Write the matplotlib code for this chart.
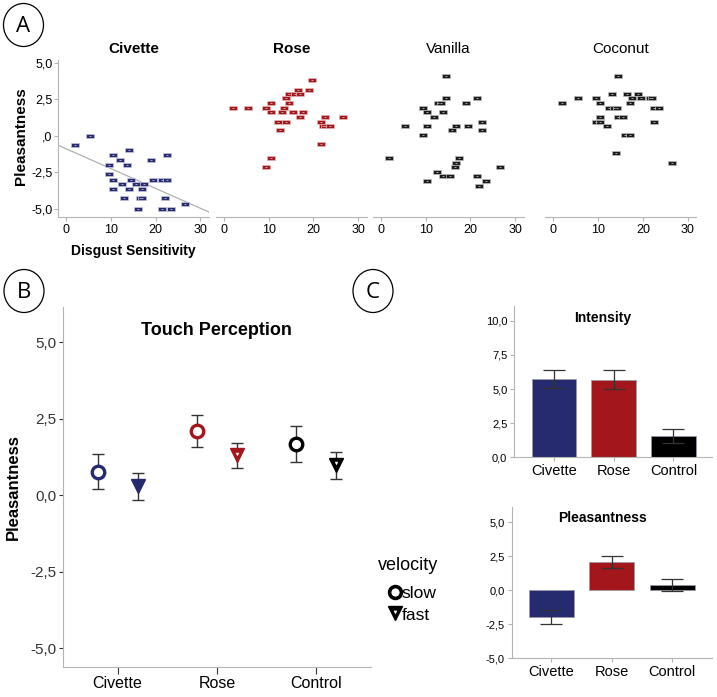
import numpy as np
import matplotlib
matplotlib.use('Agg')
import matplotlib.pyplot as plt
from matplotlib.patches import Ellipse
from matplotlib.path import Path

plt.rcParams['font.family'] = ['Liberation Sans', 'DejaVu Sans']

# ---------------- data ----------------
# panel A: disgust sensitivity vs pleasantness
civ_x = [2.0, 5.4, 10.5, 12.0, 14.0, 9.5, 13.5, 19.0, 22.6, 9.5, 10.5, 12.5, 14.5, 15.5, 17.5,
         19.5, 21.5, 22.6, 10.5, 14.0, 17.0, 13.0, 16.5, 17.0, 22.0, 16.0, 21.5, 23.5, 26.6]
civ_y = [-0.66, 0.0, -1.32, -1.67, -1.0, -2.0, -2.0, -1.67, -1.32, -2.65, -3.0, -3.3, -3.0, -3.3, -3.3,
         -3.0, -3.0, -3.0, -3.65, -3.65, -3.65, -4.3, -4.3, -4.3, -4.3, -5.0, -5.0, -5.0, -4.65]
rose_x = [2.0, 5.5, 9.5, 10.5, 10.5, 12.0, 12.5, 13.0, 13.5, 14.0, 14.5, 14.5, 14.0, 15.5, 16.0,
          16.6, 17.1, 17.1, 17.6, 19.1, 19.6, 21.6, 22.6, 22.1, 22.6, 23.6, 21.6, 26.6, 10.5, 9.5]
rose_y = [1.94, 1.94, 1.94, 2.26, 1.62, 0.98, 0.37, 1.62, 1.94, 2.56, 2.88, 2.26, 0.98, 1.62, 2.88,
          3.17, 2.88, 1.30, 1.62, 3.17, 3.81, 0.98, 1.30, 0.66, 0.66, 0.66, -0.57, 1.30, -1.53, -2.15]
van_x = [14.5, 14.5, 21.5, 12.8, 13.4, 19.0, 9.4, 10.4, 14.0, 11.9, 22.5, 5.4, 10.4, 16.9, 19.5,
         16.0, 22.5, 9.4, 1.9, 17.5, 16.9, 16.5, 26.5, 12.5, 14.0, 15.4, 21.5, 10.4, 23.5, 22.0]
van_y = [4.13, 2.56, 2.56, 2.26, 2.26, 2.26, 1.94, 1.62, 1.62, 1.30, 0.98, 0.66, 0.66, 0.66, 0.66,
         0.37, 0.37, 0.05, -1.53, -1.53, -1.85, -2.15, -2.15, -2.47, -2.79, -2.79, -2.79, -3.11, -3.11, -3.42]
coc_x = [14.5, 13.0, 16.5, 19.0, 5.5, 9.6, 17.6, 19.6, 21.6, 22.1, 2.0, 10.5, 17.0, 12.5, 13.6,
         14.1, 22.5, 23.6, 10.5, 14.5, 15.6, 9.6, 10.5, 22.5, 12.0, 16.0, 17.0, 14.0, 26.5]
coc_y = [4.13, 2.88, 2.88, 2.88, 2.56, 2.56, 2.56, 2.56, 2.56, 2.56, 2.26, 2.26, 2.26, 1.94, 1.94,
         1.94, 1.94, 1.94, 1.30, 1.30, 1.30, 0.98, 0.98, 0.98, 0.66, 0.05, 0.05, -1.21, -1.85]

# panel B: touch perception by odour and velocity
odours = ['Civette', 'Rose', 'Control']
slow_mean = [0.77, 2.09, 1.68]
slow_err = [0.58, 0.52, 0.58]
fast_mean = [0.30, 1.30, 0.98]
fast_err = [0.44, 0.42, 0.44]

# panel C: odour ratings
intensity_mean = [5.74, 5.67, 1.55]
intensity_err = [0.67, 0.70, 0.52]
pleas_mean = [-1.96, 2.08, 0.39]
pleas_err = [0.53, 0.41, 0.42]

NAVY = '#262a6e'
RED = '#a3171c'
BLACK = '#000000'
cols = [NAVY, RED, BLACK]
SPINE = '#b4b4b4'
ERR = '#333333'

W, H = 717, 697
fig = plt.figure(figsize=(W / 100, H / 100), dpi=100)


def box(left, top, right, bottom):
    # pixel box -> figure fraction rect
    return [left / W, 1 - bottom / H, (right - left) / W, (bottom - top) / H]


def style_axes(ax, show_y=True, tick_size=8.5):
    for s in ['top', 'right']:
        ax.spines[s].set_visible(False)
    ax.spines['bottom'].set_color(SPINE)
    ax.spines['left'].set_color(SPINE)
    if not show_y:
        ax.spines['left'].set_visible(False)
        ax.set_yticks([])
    ax.tick_params(axis='both', colors=SPINE, labelcolor='black', labelsize=tick_size,
                   length=3, width=0.8, pad=2)


rect_marker = Path([(-1, -0.55), (1, -0.55), (1, 0.55), (-1, 0.55), (-1, -0.55)])

# ---------------- panel A ----------------
scatter_sets = [('Civette', civ_x, civ_y, NAVY, 'bold', '#c6c6e0'),
                ('Rose', rose_x, rose_y, RED, 'bold', '#e8b8b8'),
                ('Vanilla', van_x, van_y, '#1a1a1a', 'normal', '#bdbdbd'),
                ('Coconut', coc_x, coc_y, '#1a1a1a', 'normal', '#bdbdbd')]
zero_px = [66, 223.7, 380.7, 553.3]
for i, (name, xs, ys, c, wt, ec) in enumerate(scatter_sets):
    left = zero_px[i] - 8
    ax = fig.add_axes(box(left, 60, left + 151, 216.7))
    ax.scatter(xs, ys, marker=rect_marker, s=26, facecolor=c, edgecolor=ec,
               linewidths=0.5, zorder=3)
    ax.scatter(xs, ys, marker='_', s=3, color='#e0e0e0', linewidths=0.5, zorder=4)
    ax.set_xlim(-1.8, 31.9)
    ax.set_ylim(-5.55, 5.2)
    ax.set_xticks([0, 10, 20, 30])
    style_axes(ax, show_y=(i == 0), tick_size=9)
    ax.tick_params(axis='y', pad=1)
    ax.set_title(name, fontsize=11, fontweight=wt, pad=5)
    if i == 0:
        ax.set_yticks([5, 2.5, 0, -2.5, -5])
        ax.set_yticklabels(['5,0', '2,5', ',0', '-2,5', '-5,0'])
        k, b = np.polyfit(civ_x, civ_y, 1)
        xl = np.array([-1.8, 31.9])
        ax.plot(xl, k * xl + b, color='#b0b0b0', lw=0.9, zorder=2)

fig.text(21 / W, 1 - 136 / H, 'Pleasantness', rotation=90, ha='center', va='center',
         fontsize=11, fontweight='bold')
fig.text(133 / W, 1 - 251 / H, 'Disgust Sensitivity', ha='center', va='center',
         fontsize=10, fontweight='bold')

# ---------------- panel B ----------------
axb = fig.add_axes(box(63, 306.7, 371, 666.7))
xpos = np.arange(len(odours))
for i in range(len(odours)):
    axb.errorbar(xpos[i] - 0.2, slow_mean[i], yerr=slow_err[i], fmt='none', ecolor=ERR,
                 elinewidth=1, capsize=4, capthick=1, zorder=2)
    axb.errorbar(xpos[i] + 0.2, fast_mean[i], yerr=fast_err[i], fmt='none', ecolor=ERR,
                 elinewidth=1, capsize=4, capthick=1, zorder=2)
    axb.plot(xpos[i] - 0.2, slow_mean[i], 'o', ms=9, mfc='white', mec=cols[i], mew=2.4, zorder=3)
    axb.plot(xpos[i] + 0.2, fast_mean[i], 'v', ms=10.5, mfc=cols[i], mec=cols[i], mew=1, zorder=3)
    if i > 0:
        axb.plot(xpos[i] + 0.2, fast_mean[i] + 0.06, 'v', ms=2.2, mfc='white', mec='white',
                 mew=0.2, zorder=4)
axb.set_xlim(-0.55, 2.55)
axb.set_ylim(-5.6, 6.16)
axb.set_xticks(xpos)
axb.set_xticklabels(odours)
axb.set_yticks([5, 2.5, 0, -2.5, -5])
axb.set_yticklabels(['5,0', '2,5', '0,0', '-2,5', '-5,0'])
style_axes(axb, tick_size=11)
axb.tick_params(axis='x', length=5, colors='#333333', labelcolor='black', labelsize=11.5)
axb.tick_params(axis='y', length=3, colors='#333333')
axb.text(0.497, 1 - (331 - 306.7) / 360, 'Touch Perception', transform=axb.transAxes,
         ha='center', va='center', fontsize=13, fontweight='bold')
fig.text(13 / W, 1 - 487 / H, 'Pleasantness', rotation=90, ha='center', va='center',
         fontsize=12, fontweight='bold')

# legend for velocity, drawn in pixel space
ov = fig.add_axes([0, 0, 1, 1], facecolor='none')
ov.set_xlim(0, W)
ov.set_ylim(H, 0)
ov.axis('off')
ov.text(378, 565, 'velocity', ha='left', va='center', fontsize=13)
ov.plot(394.5, 592, 'o', ms=8.5, mfc='white', mec='black', mew=2.6)
ov.text(401, 594, 'slow', ha='left', va='center', fontsize=12.5)
ov.plot(394.5, 613, 'v', ms=10.5, mfc='black', mec='black', mew=1)
ov.plot(394.5, 611.5, 'v', ms=2.4, mfc='white', mec='white', mew=0.2)
ov.text(402, 615, 'fast', ha='left', va='center', fontsize=12.5)

# ---------------- panel C ----------------
axc1 = fig.add_axes(box(514.3, 305.7, 712.3, 457.3))
axc1.bar(xpos, intensity_mean, width=0.75, color=cols, edgecolor='#9a9aa8', linewidth=0.5)
axc1.errorbar(xpos, intensity_mean, yerr=intensity_err, fmt='none', ecolor=ERR,
              elinewidth=0.9, capsize=8, capthick=0.9)
axc1.set_xlim(-0.665, 2.65)
axc1.set_ylim(0, 11.1)
axc1.set_xticks(xpos)
axc1.set_xticklabels(odours)
axc1.set_yticks([0, 2.5, 5, 7.5, 10])
axc1.set_yticklabels(['0,0', '2,5', '5,0', '7,5', '10,0'])
style_axes(axc1, tick_size=8)
axc1.tick_params(axis='x', labelsize=10.5, length=3)
axc1.text(0.445, 1 - (318 - 305.7) / 151.6, 'Intensity', transform=axc1.transAxes,
          ha='center', va='center', fontsize=10, fontweight='bold')

axc2 = fig.add_axes(box(511.7, 506.7, 711.7, 658.3))
axc2.bar(xpos, pleas_mean, width=0.74, color=cols, edgecolor='#9a9aa8', linewidth=0.5)
axc2.errorbar(xpos, pleas_mean, yerr=pleas_err, fmt='none', ecolor=ERR,
              elinewidth=0.9, capsize=8, capthick=0.9)
axc2.set_xlim(-0.655, 2.65)
axc2.set_ylim(-5.0, 6.15)
axc2.set_xticks(xpos)
axc2.set_xticklabels(odours)
axc2.set_yticks([5, 2.5, 0, -2.5, -5])
axc2.set_yticklabels(['5,0', '2,5', '0,0', '-2,5', '-5,0'])
style_axes(axc2, tick_size=8)
axc2.tick_params(axis='x', labelsize=10.5, length=3)
axc2.text(0.455, 1 - (518.5 - 506.7) / 151.6, 'Pleasantness', transform=axc2.transAxes,
          ha='center', va='center', fontsize=10, fontweight='bold')

# ---------------- panel letters ----------------
for letter, cx, cy in [('A', 23.5, 25), ('B', 24, 291), ('C', 373, 291)]:
    ov.add_patch(Ellipse((cx, cy), 40, 43, fill=False, edgecolor='black', lw=0.9))
    ov.text(cx, cy + 1, letter, ha='center', va='center', fontsize=16,
            family=['Open Sans', 'DejaVu Sans'])

fig.savefig('out.png', dpi=100)
